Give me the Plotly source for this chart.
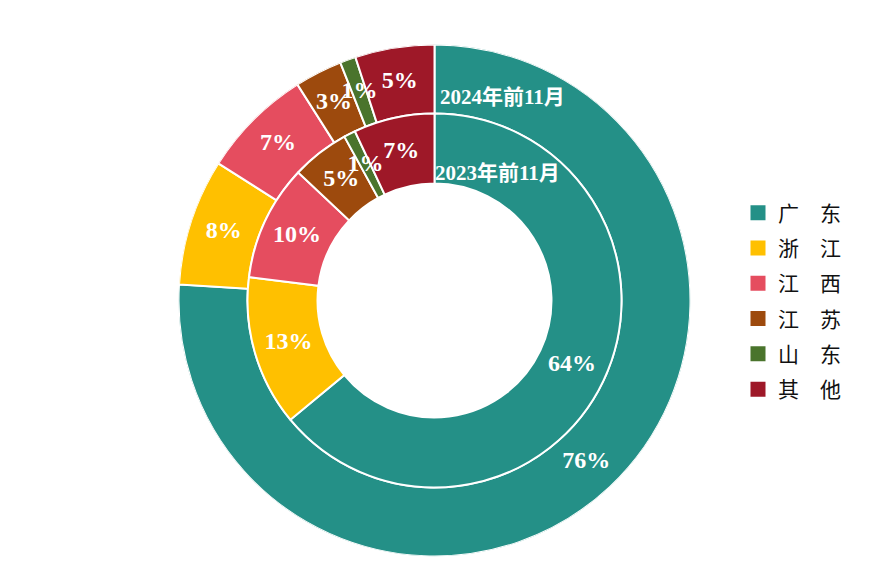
import plotly.graph_objects as go

categories = ["广　东", "浙　江", "江　西", "江　苏", "山　东", "其　他"]
values_2024 = [76, 8, 7, 3, 1, 5]
values_2023 = [64, 13, 10, 5, 1, 7]
labels_2024 = ["76%", "8%", "7%", "3%", "1%", "5%"]
labels_2023 = ["64%", "13%", "10%", "5%", "1%", "7%"]
colors = ["#249087", "#FFC000", "#E54D5F", "#9D4A0D", "#4A742C", "#9E1828"]

W, H = 889, 580
cx, cy = 434.5, 300.5
R_out, R_mid, R_in = 256, 187, 117

def dom(r):
    return dict(x=[(cx - r) / W, (cx + r) / W],
                y=[(H - cy - r) / H, (H - cy + r) / H])

def angles(vals):
    total = float(sum(vals))
    mids, widths, acc = [], [], 0.0
    for v in vals:
        mids.append((acc + v / 2) / total * 360)
        widths.append(v / total * 360)
        acc += v
    return mids, widths

rings = [(values_2024, labels_2024, R_out, R_mid), (values_2023, labels_2023, R_mid, R_in)]
ring_angles = [angles(v) for v, _, _, _ in rings]

fig = go.Figure()
# ring slices: one barpolar trace per category (outer + inner bar)
for i, (name, col) in enumerate(zip(categories, colors)):
    th, wd, rr, bs = [], [], [], []
    for (vals, labs, ro, ri), (mids, widths) in zip(rings, ring_angles):
        th.append(mids[i]); wd.append(widths[i]); rr.append(ro - ri); bs.append(ri)
    fig.add_trace(go.Barpolar(
        theta=th, width=wd, r=rr, base=bs, name=name, showlegend=False,
        marker=dict(color=col, line=dict(color="white", width=2)),
        hoverinfo="name",
    ))

# percentage labels at the middle of each slice
txtfont = dict(family="Liberation Serif, Times New Roman, serif", size=24, color="white")
for (vals, labs, ro, ri), (mids, widths) in zip(rings, ring_angles):
    fig.add_trace(go.Scatterpolar(
        r=[(ro + ri) / 2] * len(vals), theta=mids, mode="text",
        text=["<b>%s</b>" % t for t in labs], textfont=txtfont,
        textposition="middle center", showlegend=False, hoverinfo="skip",
    ))

# legend entries
for i, (name, col) in enumerate(zip(categories, colors)):
    fig.add_trace(go.Scatter(
        x=[None], y=[None], mode="markers", name=name, legendgroup=str(i),
        marker=dict(symbol="square", size=15, color=col),
    ))

ann_font = dict(family="Liberation Serif, Noto Sans CJK SC, serif", size=21, color="white")
fig.add_annotation(text="<b>2024年前11月</b>", x=438 / W, y=1 - 97 / H, xref="paper", yref="paper",
                   xanchor="left", yanchor="middle", showarrow=False, font=ann_font)
fig.add_annotation(text="<b>2023年前11月</b>", x=433 / W, y=1 - 173 / H, xref="paper", yref="paper",
                   xanchor="left", yanchor="middle", showarrow=False, font=ann_font)

fig.update_layout(
    width=W, height=H, margin=dict(l=0, r=0, t=0, b=0),
    paper_bgcolor="white", plot_bgcolor="rgba(0,0,0,0)",
    xaxis=dict(visible=False), yaxis=dict(visible=False),
    polar=dict(domain=dom(R_out), bgcolor="rgba(0,0,0,0)", hole=0,
               barmode="overlay", bargap=0,
               radialaxis=dict(range=[0, R_out], visible=False),
               angularaxis=dict(direction="clockwise", rotation=90, visible=False)),
    legend=dict(x=738 / W, y=1 - 301 / H, xanchor="left", yanchor="middle",
                traceorder="grouped", tracegroupgap=5,
                font=dict(family="Noto Sans CJK SC, serif", size=21, color="#111111"),
                bgcolor="rgba(0,0,0,0)"),
)
fig.write_html("out.html")
